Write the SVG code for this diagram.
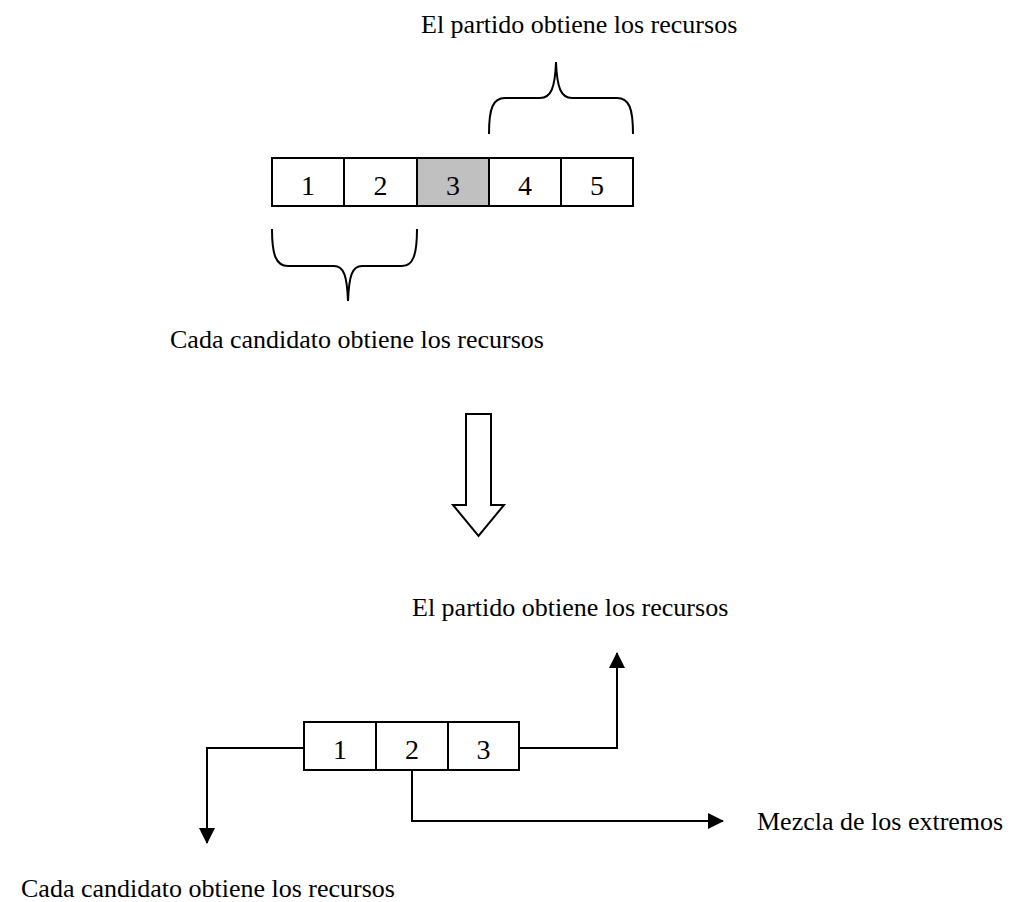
<svg xmlns="http://www.w3.org/2000/svg" width="1018" height="902" viewBox="0 0 1018 902">
<style>
.t{font-family:"Liberation Serif","Times New Roman",serif;font-size:26px;fill:#000}
.d{font-family:"Liberation Serif","Times New Roman",serif;font-size:28px;fill:#000;text-anchor:middle}
.box{fill:#fff;stroke:#000;stroke-width:2}
.gray{fill:#c0c0c0;stroke:#000;stroke-width:2}
.ln{fill:none;stroke:#000;stroke-width:2}
</style>
<defs>
<marker id="ah" markerUnits="userSpaceOnUse" markerWidth="16" markerHeight="16" refX="15" refY="8" orient="auto">
<path d="M0,0 L16,8 L0,16 z" fill="#000"/>
</marker>
</defs>
<rect width="1018" height="902" fill="#fff"/>

<g id="label-top-partido"><text class="t" x="421" y="33">El partido obtiene los recursos</text></g>
<g id="brace-top"><path class="ln" d="M489,134 C489,108 493,98 505,98 L540,98 C551,98 555,88 556,62 C557,88 561,98 572,98 L617,98 C629,98 633,108 633,134"/></g>

<g id="top-array">
<g id="cell-1"><rect class="box" x="272" y="158" width="72" height="48"/><text class="d" x="308" y="195">1</text></g>
<g id="cell-2"><rect class="box" x="344" y="158" width="73" height="48"/><text class="d" x="380.5" y="195">2</text></g>
<g id="cell-3"><rect class="gray" x="417" y="158" width="72" height="48"/><text class="d" x="453" y="195">3</text></g>
<g id="cell-4"><rect class="box" x="489" y="158" width="72" height="48"/><text class="d" x="525" y="195">4</text></g>
<g id="cell-5"><rect class="box" x="561" y="158" width="72" height="48"/><text class="d" x="597" y="195">5</text></g>
</g>

<g id="brace-bottom"><path class="ln" d="M272,229 C272,255 276,266 288,266 L334,266 C344,266 347,276 348,301 C349,276 352,266 362,266 L402,266 C413,266 417,255 417,229"/></g>
<g id="label-top-candidato"><text class="t" x="170" y="348">Cada candidato obtiene los recursos</text></g>

<g id="big-arrow"><path d="M466,414 L491,414 L491,505 L504,505 L478.5,536 L453,505 L466,505 Z" fill="#fff" stroke="#000" stroke-width="2"/></g>

<g id="label-mid-partido"><text class="t" x="412" y="616">El partido obtiene los recursos</text></g>

<g id="bottom-array">
<g id="b-cell-1"><rect class="box" x="304" y="722" width="72" height="48"/><text class="d" x="340" y="759">1</text></g>
<g id="b-cell-2"><rect class="box" x="376" y="722" width="72" height="48"/><text class="d" x="412" y="759">2</text></g>
<g id="b-cell-3"><rect class="box" x="448" y="722" width="71" height="48"/><text class="d" x="483.5" y="759">3</text></g>
</g>

<g id="connectors">
<path class="ln" d="M304,748 L207,748 L207,843" marker-end="url(#ah)"/>
<path class="ln" d="M519,748 L617,748 L617,653" marker-end="url(#ah)"/>
<path class="ln" d="M412,770 L412,821 L723,821" marker-end="url(#ah)"/>
</g>

<g id="label-mezcla"><text class="t" x="757" y="830">Mezcla de los extremos</text></g>
<g id="label-bottom-candidato"><text class="t" x="21" y="897">Cada candidato obtiene los recursos</text></g>
</svg>
